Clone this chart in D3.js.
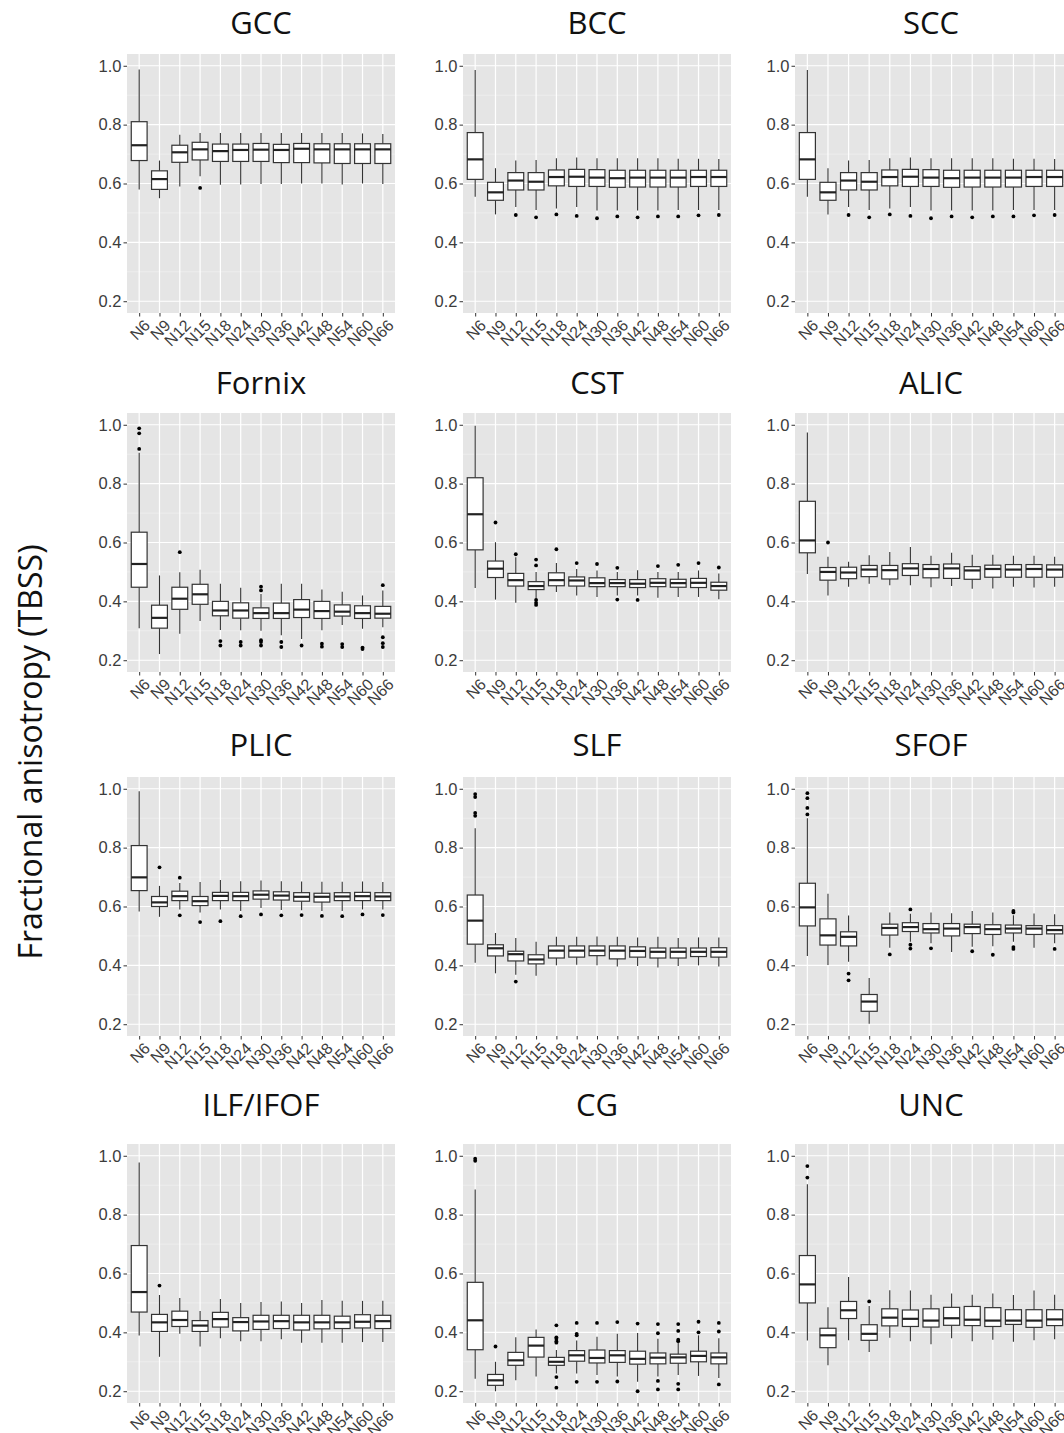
<!DOCTYPE html>
<html>
<head>
<meta charset="utf-8">
<script src="https://cdn.jsdelivr.net/npm/d3@7"></script>
<style>
  body { margin: 0; background: #fff; }
  svg { display: block; }
</style>
</head>
<body>
<div id="chart"></div>
<script>
// categories on the x axis of every panel
var categories = ["N6","N9","N12","N15","N18","N24","N30","N36","N42","N48","N54","N60","N66"];
var titles = ["GCC","BCC","SCC","Fornix","CST","ALIC","PLIC","SLF","SFOF","ILF/IFOF","CG","UNC"];
var yTicks = [0.2, 0.4, 0.6, 0.8, 1.0];
var yMinor = [0.3, 0.5, 0.7, 0.9];

// each row: [lower whisker, Q1, median, Q3, upper whisker]
var gcc = [
  [0.580,0.678,0.730,0.810,0.987],[0.550,0.580,0.615,0.643,0.678],[0.590,0.672,0.706,0.730,0.766],
  [0.625,0.680,0.716,0.740,0.772],[0.596,0.675,0.710,0.734,0.772],[0.597,0.675,0.714,0.734,0.772],
  [0.598,0.675,0.715,0.736,0.772],[0.598,0.671,0.714,0.733,0.772],[0.600,0.671,0.718,0.736,0.772],
  [0.600,0.670,0.716,0.735,0.772],[0.597,0.668,0.716,0.735,0.772],[0.600,0.668,0.716,0.735,0.770],
  [0.598,0.668,0.716,0.735,0.768]];
var gccOut = [[],[],[],[0.585],[],[],[],[],[],[],[],[],[]];

var bcc = [
  [0.555,0.614,0.682,0.773,0.986],[0.495,0.543,0.570,0.604,0.652],[0.520,0.578,0.610,0.637,0.678],
  [0.510,0.578,0.606,0.637,0.680],[0.515,0.592,0.622,0.646,0.686],[0.520,0.590,0.623,0.648,0.688],
  [0.508,0.590,0.620,0.647,0.686],[0.508,0.587,0.618,0.645,0.686],[0.508,0.588,0.620,0.645,0.686],
  [0.508,0.588,0.620,0.645,0.686],[0.510,0.588,0.620,0.645,0.684],[0.510,0.590,0.622,0.645,0.684],
  [0.510,0.590,0.622,0.645,0.683]];
var bccOut = [[],[],[0.493],[0.485],[0.495],[0.490],[0.482],[0.488],[0.485],[0.488],[0.488],[0.492],[0.493]];

var scc = [
  [0.555,0.614,0.682,0.773,0.986],[0.495,0.543,0.570,0.604,0.652],[0.520,0.578,0.610,0.637,0.678],
  [0.510,0.578,0.606,0.637,0.680],[0.515,0.592,0.622,0.646,0.686],[0.520,0.590,0.623,0.648,0.688],
  [0.508,0.590,0.620,0.647,0.686],[0.508,0.587,0.618,0.645,0.686],[0.508,0.588,0.620,0.645,0.686],
  [0.508,0.588,0.620,0.645,0.686],[0.510,0.588,0.620,0.645,0.684],[0.510,0.590,0.622,0.645,0.684],
  [0.510,0.590,0.622,0.645,0.683]];
var sccOut = [[],[],[0.493],[0.485],[0.495],[0.490],[0.482],[0.488],[0.485],[0.488],[0.488],[0.492],[0.493]];

var fornix = [
  [0.309,0.448,0.527,0.635,0.905],[0.221,0.309,0.344,0.387,0.488],[0.290,0.373,0.409,0.448,0.499],
  [0.333,0.390,0.424,0.458,0.507],[0.303,0.351,0.369,0.400,0.460],[0.302,0.343,0.369,0.395,0.446],
  [0.300,0.342,0.360,0.378,0.425],[0.285,0.342,0.360,0.394,0.460],[0.272,0.345,0.372,0.406,0.460],
  [0.302,0.342,0.367,0.400,0.440],[0.320,0.350,0.365,0.388,0.433],[0.307,0.342,0.360,0.385,0.420],
  [0.312,0.343,0.358,0.383,0.437]];
var fornixOut = [[0.988,0.971,0.918],[],[0.567],[],[0.265,0.250],[0.262,0.250],[0.450,0.437,0.268,0.262,0.250],
  [0.262,0.245],[0.250],[0.256,0.246],[0.255,0.245],[0.243,0.238],[0.455,0.278,0.258,0.245]];

var cst = [
  [0.445,0.575,0.696,0.820,0.997],[0.406,0.481,0.511,0.537,0.601],[0.395,0.452,0.472,0.495,0.550],
  [0.410,0.440,0.452,0.467,0.500],[0.432,0.453,0.472,0.497,0.530],[0.420,0.452,0.471,0.483,0.510],
  [0.415,0.450,0.462,0.480,0.505],[0.420,0.450,0.462,0.474,0.500],[0.420,0.447,0.460,0.474,0.506],
  [0.412,0.450,0.463,0.477,0.500],[0.415,0.448,0.462,0.475,0.500],[0.415,0.447,0.463,0.478,0.505],
  [0.407,0.438,0.452,0.465,0.495]];
var cstOut = [[],[0.668],[0.560],[0.542,0.522,0.405,0.395,0.388],[0.577],[0.530],[0.527],[0.514,0.406],
  [0.405],[0.520],[0.524],[0.530],[0.515]];

var alic = [
  [0.493,0.565,0.607,0.740,0.974],[0.420,0.472,0.500,0.515,0.552],[0.450,0.477,0.498,0.516,0.535],
  [0.460,0.484,0.508,0.522,0.557],[0.455,0.476,0.506,0.522,0.568],[0.455,0.488,0.512,0.528,0.585],
  [0.448,0.480,0.510,0.525,0.555],[0.452,0.478,0.512,0.527,0.565],[0.443,0.475,0.505,0.518,0.558],
  [0.444,0.482,0.510,0.523,0.558],[0.450,0.482,0.508,0.525,0.555],[0.447,0.482,0.510,0.525,0.555],
  [0.450,0.482,0.508,0.524,0.552]];
var alicOut = [[],[0.600],[],[],[],[],[],[],[],[],[],[],[]];

var plic = [
  [0.583,0.654,0.699,0.807,0.992],[0.565,0.600,0.614,0.634,0.670],[0.590,0.620,0.635,0.652,0.680],
  [0.580,0.603,0.618,0.634,0.683],[0.590,0.620,0.636,0.648,0.690],[0.585,0.620,0.635,0.648,0.686],
  [0.595,0.625,0.640,0.653,0.688],[0.588,0.622,0.637,0.650,0.686],[0.587,0.618,0.633,0.647,0.685],
  [0.585,0.615,0.633,0.645,0.684],[0.585,0.620,0.634,0.647,0.684],[0.590,0.620,0.635,0.648,0.685],
  [0.590,0.620,0.634,0.647,0.683]];
var plicOut = [[],[0.733],[0.698,0.570],[0.547],[0.550],[0.567],[0.573],[0.570],[0.571],[0.568],[0.567],[0.573],[0.571]];

var slf = [
  [0.409,0.472,0.552,0.639,0.866],[0.373,0.432,0.458,0.470,0.510],[0.368,0.415,0.438,0.448,0.493],
  [0.365,0.405,0.420,0.436,0.480],[0.400,0.425,0.450,0.466,0.497],[0.402,0.428,0.450,0.466,0.497],
  [0.400,0.433,0.450,0.466,0.498],[0.396,0.422,0.450,0.466,0.497],[0.398,0.428,0.449,0.463,0.495],
  [0.393,0.425,0.446,0.459,0.497],[0.398,0.425,0.446,0.459,0.493],[0.400,0.430,0.446,0.459,0.495],
  [0.396,0.428,0.446,0.460,0.495]];
var slfOut = [[0.982,0.972,0.918,0.908],[],[0.345],[],[],[],[],[],[],[],[],[],[]];

var sfof = [
  [0.432,0.534,0.597,0.679,0.900],[0.401,0.469,0.502,0.558,0.643],[0.412,0.466,0.497,0.514,0.569],
  [0.202,0.244,0.277,0.301,0.357],[0.460,0.503,0.527,0.540,0.580],[0.480,0.515,0.530,0.545,0.575],
  [0.475,0.510,0.523,0.542,0.580],[0.445,0.500,0.525,0.542,0.577],[0.463,0.508,0.530,0.540,0.585],
  [0.465,0.505,0.523,0.538,0.580],[0.480,0.510,0.525,0.537,0.570],[0.460,0.505,0.525,0.535,0.576],
  [0.475,0.507,0.520,0.535,0.574]];
var sfofOut = [[0.985,0.968,0.935,0.913],[],[0.372,0.349],[],[0.437],[0.590,0.470,0.457],[0.458],[],
  [0.448],[0.436],[0.585,0.580,0.462,0.456],[],[0.456]];

var ilf = [
  [0.389,0.469,0.537,0.695,0.977],[0.317,0.403,0.434,0.461,0.527],[0.395,0.420,0.442,0.472,0.517],
  [0.352,0.403,0.423,0.440,0.473],[0.380,0.418,0.445,0.468,0.513],[0.370,0.405,0.435,0.450,0.500],
  [0.370,0.410,0.437,0.458,0.503],[0.377,0.413,0.438,0.458,0.505],[0.365,0.408,0.434,0.458,0.500],
  [0.365,0.412,0.434,0.458,0.510],[0.365,0.413,0.434,0.455,0.507],[0.367,0.415,0.436,0.460,0.507],
  [0.367,0.413,0.438,0.458,0.507]];
var ilfOut = [[],[0.559],[],[],[],[],[],[],[],[],[],[],[]];

var cg = [
  [0.242,0.341,0.441,0.570,0.885],[0.200,0.220,0.237,0.257,0.300],[0.237,0.288,0.305,0.332,0.383],
  [0.250,0.316,0.355,0.383,0.410],[0.260,0.288,0.300,0.315,0.340],[0.260,0.302,0.322,0.338,0.372],
  [0.255,0.296,0.313,0.340,0.385],[0.250,0.298,0.322,0.338,0.395],[0.232,0.292,0.310,0.336,0.398],
  [0.250,0.293,0.314,0.330,0.378],[0.255,0.295,0.315,0.326,0.365],[0.252,0.300,0.320,0.336,0.390],
  [0.245,0.293,0.315,0.330,0.380]];
var cgOut = [[0.990,0.983],[0.352],[],[],[0.424,0.383,0.378,0.370,0.365,0.248,0.212],[0.432,0.395,0.390,0.232],
  [0.432,0.232],[0.435,0.233],[0.430,0.200],[0.428,0.397,0.235,0.206],[0.428,0.405,0.375,0.370,0.225,0.206],
  [0.436,0.400],[0.432,0.403,0.223]];

var unc = [
  [0.372,0.500,0.563,0.661,0.903],[0.288,0.348,0.390,0.414,0.485],[0.373,0.447,0.475,0.505,0.588],
  [0.333,0.373,0.395,0.426,0.490],[0.382,0.422,0.450,0.480,0.543],[0.370,0.420,0.446,0.476,0.542],
  [0.360,0.418,0.440,0.480,0.528],[0.380,0.424,0.448,0.485,0.532],[0.370,0.423,0.443,0.488,0.528],
  [0.375,0.420,0.440,0.484,0.532],[0.368,0.427,0.440,0.477,0.527],[0.373,0.417,0.440,0.477,0.542],
  [0.377,0.423,0.444,0.477,0.528]];
var uncOut = [[0.965,0.926],[],[],[0.505],[],[],[],[],[],[],[],[],[]];

var allStats = [gcc, bcc, scc, fornix, cst, alic, plic, slf, sfof, ilf, cg, unc];
var allOut = [gccOut, bccOut, sccOut, fornixOut, cstOut, alicOut, plicOut, slfOut, sfofOut, ilfOut, cgOut, uncOut];

// layout
var W = 1064, H = 1433;
var colLeft = [127, 463, 795], colWidth = [268, 268, 272];
var rowTop = [54, 413, 777, 1144], panelH = 259;
var titleY = [34, 394, 756, 1116];

var svg = d3.select("#chart").append("svg")
    .attr("width", W)
    .attr("height", H);

svg.append("text")
    .attr("transform", "translate(42,752) rotate(-90)")
    .attr("text-anchor", "middle")
    .style("font-family", "'Open Sans', 'Noto Sans', sans-serif")
    .style("font-size", "32px")
    .attr("fill", "#111")
    .text("Fractional anisotropy (TBSS)");

titles.forEach(function(title, i) {
  var r = Math.floor(i / 3), c = i % 3;
  var w = colWidth[c];
  var stats = allStats[i], outs = allOut[i];

  var x = d3.scalePoint().domain(categories).range([0, w]).padding(0.6);
  var y = d3.scaleLinear().domain([0.16, 1.04]).range([panelH, 0]);
  var bw = x.step() * 0.78;

  var g = svg.append("g").attr("transform", "translate(" + colLeft[c] + "," + rowTop[r] + ")");

  svg.append("text")
      .attr("x", colLeft[c] + w / 2)
      .attr("y", titleY[r])
      .attr("text-anchor", "middle")
      .style("font-family", "'Open Sans', 'Noto Sans', sans-serif")
      .style("font-size", "31px")
      .attr("fill", "#111")
      .text(title);

  g.append("rect").attr("width", w).attr("height", panelH).attr("fill", "#E5E5E5");

  // grid
  g.selectAll(".minor").data(yMinor).enter().append("line")
      .attr("x1", 0).attr("x2", w)
      .attr("y1", function(d) { return y(d); }).attr("y2", function(d) { return y(d); })
      .attr("stroke", "#f4f4f4").attr("stroke-width", 0.6);
  g.selectAll(".major").data(yTicks).enter().append("line")
      .attr("x1", 0).attr("x2", w)
      .attr("y1", function(d) { return y(d); }).attr("y2", function(d) { return y(d); })
      .attr("stroke", "#fff").attr("stroke-width", 1.2);
  g.selectAll(".vgrid").data(categories).enter().append("line")
      .attr("x1", function(d) { return x(d); }).attr("x2", function(d) { return x(d); })
      .attr("y1", 0).attr("y2", panelH)
      .attr("stroke", "#fff").attr("stroke-width", 1.2);

  // boxes
  var box = g.selectAll(".box").data(stats).enter().append("g")
      .attr("transform", function(d, j) { return "translate(" + x(categories[j]) + ",0)"; });

  box.append("line")
      .attr("y1", function(d) { return y(d[4]); }).attr("y2", function(d) { return y(d[3]); })
      .attr("stroke", "#333").attr("stroke-width", 1.1);
  box.append("line")
      .attr("y1", function(d) { return y(d[1]); }).attr("y2", function(d) { return y(d[0]); })
      .attr("stroke", "#333").attr("stroke-width", 1.1);
  box.append("rect")
      .attr("x", -bw / 2).attr("width", bw)
      .attr("y", function(d) { return y(d[3]); })
      .attr("height", function(d) { return y(d[1]) - y(d[3]); })
      .attr("fill", "#fff").attr("stroke", "#333").attr("stroke-width", 1.2);
  box.append("line")
      .attr("x1", -bw / 2).attr("x2", bw / 2)
      .attr("y1", function(d) { return y(d[2]); }).attr("y2", function(d) { return y(d[2]); })
      .attr("stroke", "#222").attr("stroke-width", 2.2);

  // outliers
  outs.forEach(function(vals, j) {
    g.selectAll(".o" + j).data(vals).enter().append("circle")
        .attr("cx", x(categories[j]))
        .attr("cy", function(d) { return y(d); })
        .attr("r", 1.9)
        .attr("fill", "#000");
  });

  // axes
  var ya = g.append("g").call(d3.axisLeft(y).tickValues(yTicks).tickFormat(d3.format(".1f")).tickSize(3.5).tickPadding(2));
  ya.select(".domain").remove();
  ya.selectAll("line").attr("stroke", "#333");
  ya.selectAll("text").attr("fill", "#3c3c3c")
      .style("font-family", "'Liberation Sans', Arial, sans-serif").style("font-size", "16.5px");

  var xa = g.append("g").attr("transform", "translate(0," + panelH + ")")
      .call(d3.axisBottom(x).tickSize(3.5));
  xa.select(".domain").remove();
  xa.selectAll("line").attr("stroke", "#333");
  xa.selectAll("text")
      .attr("fill", "#3c3c3c")
      .style("font-family", "'Liberation Sans', Arial, sans-serif").style("font-size", "16px")
      .attr("text-anchor", "end")
      .attr("y", 0).attr("dy", "0.75em")
      .attr("transform", "translate(3,5) rotate(-45)");
});
</script>
</body>
</html>
